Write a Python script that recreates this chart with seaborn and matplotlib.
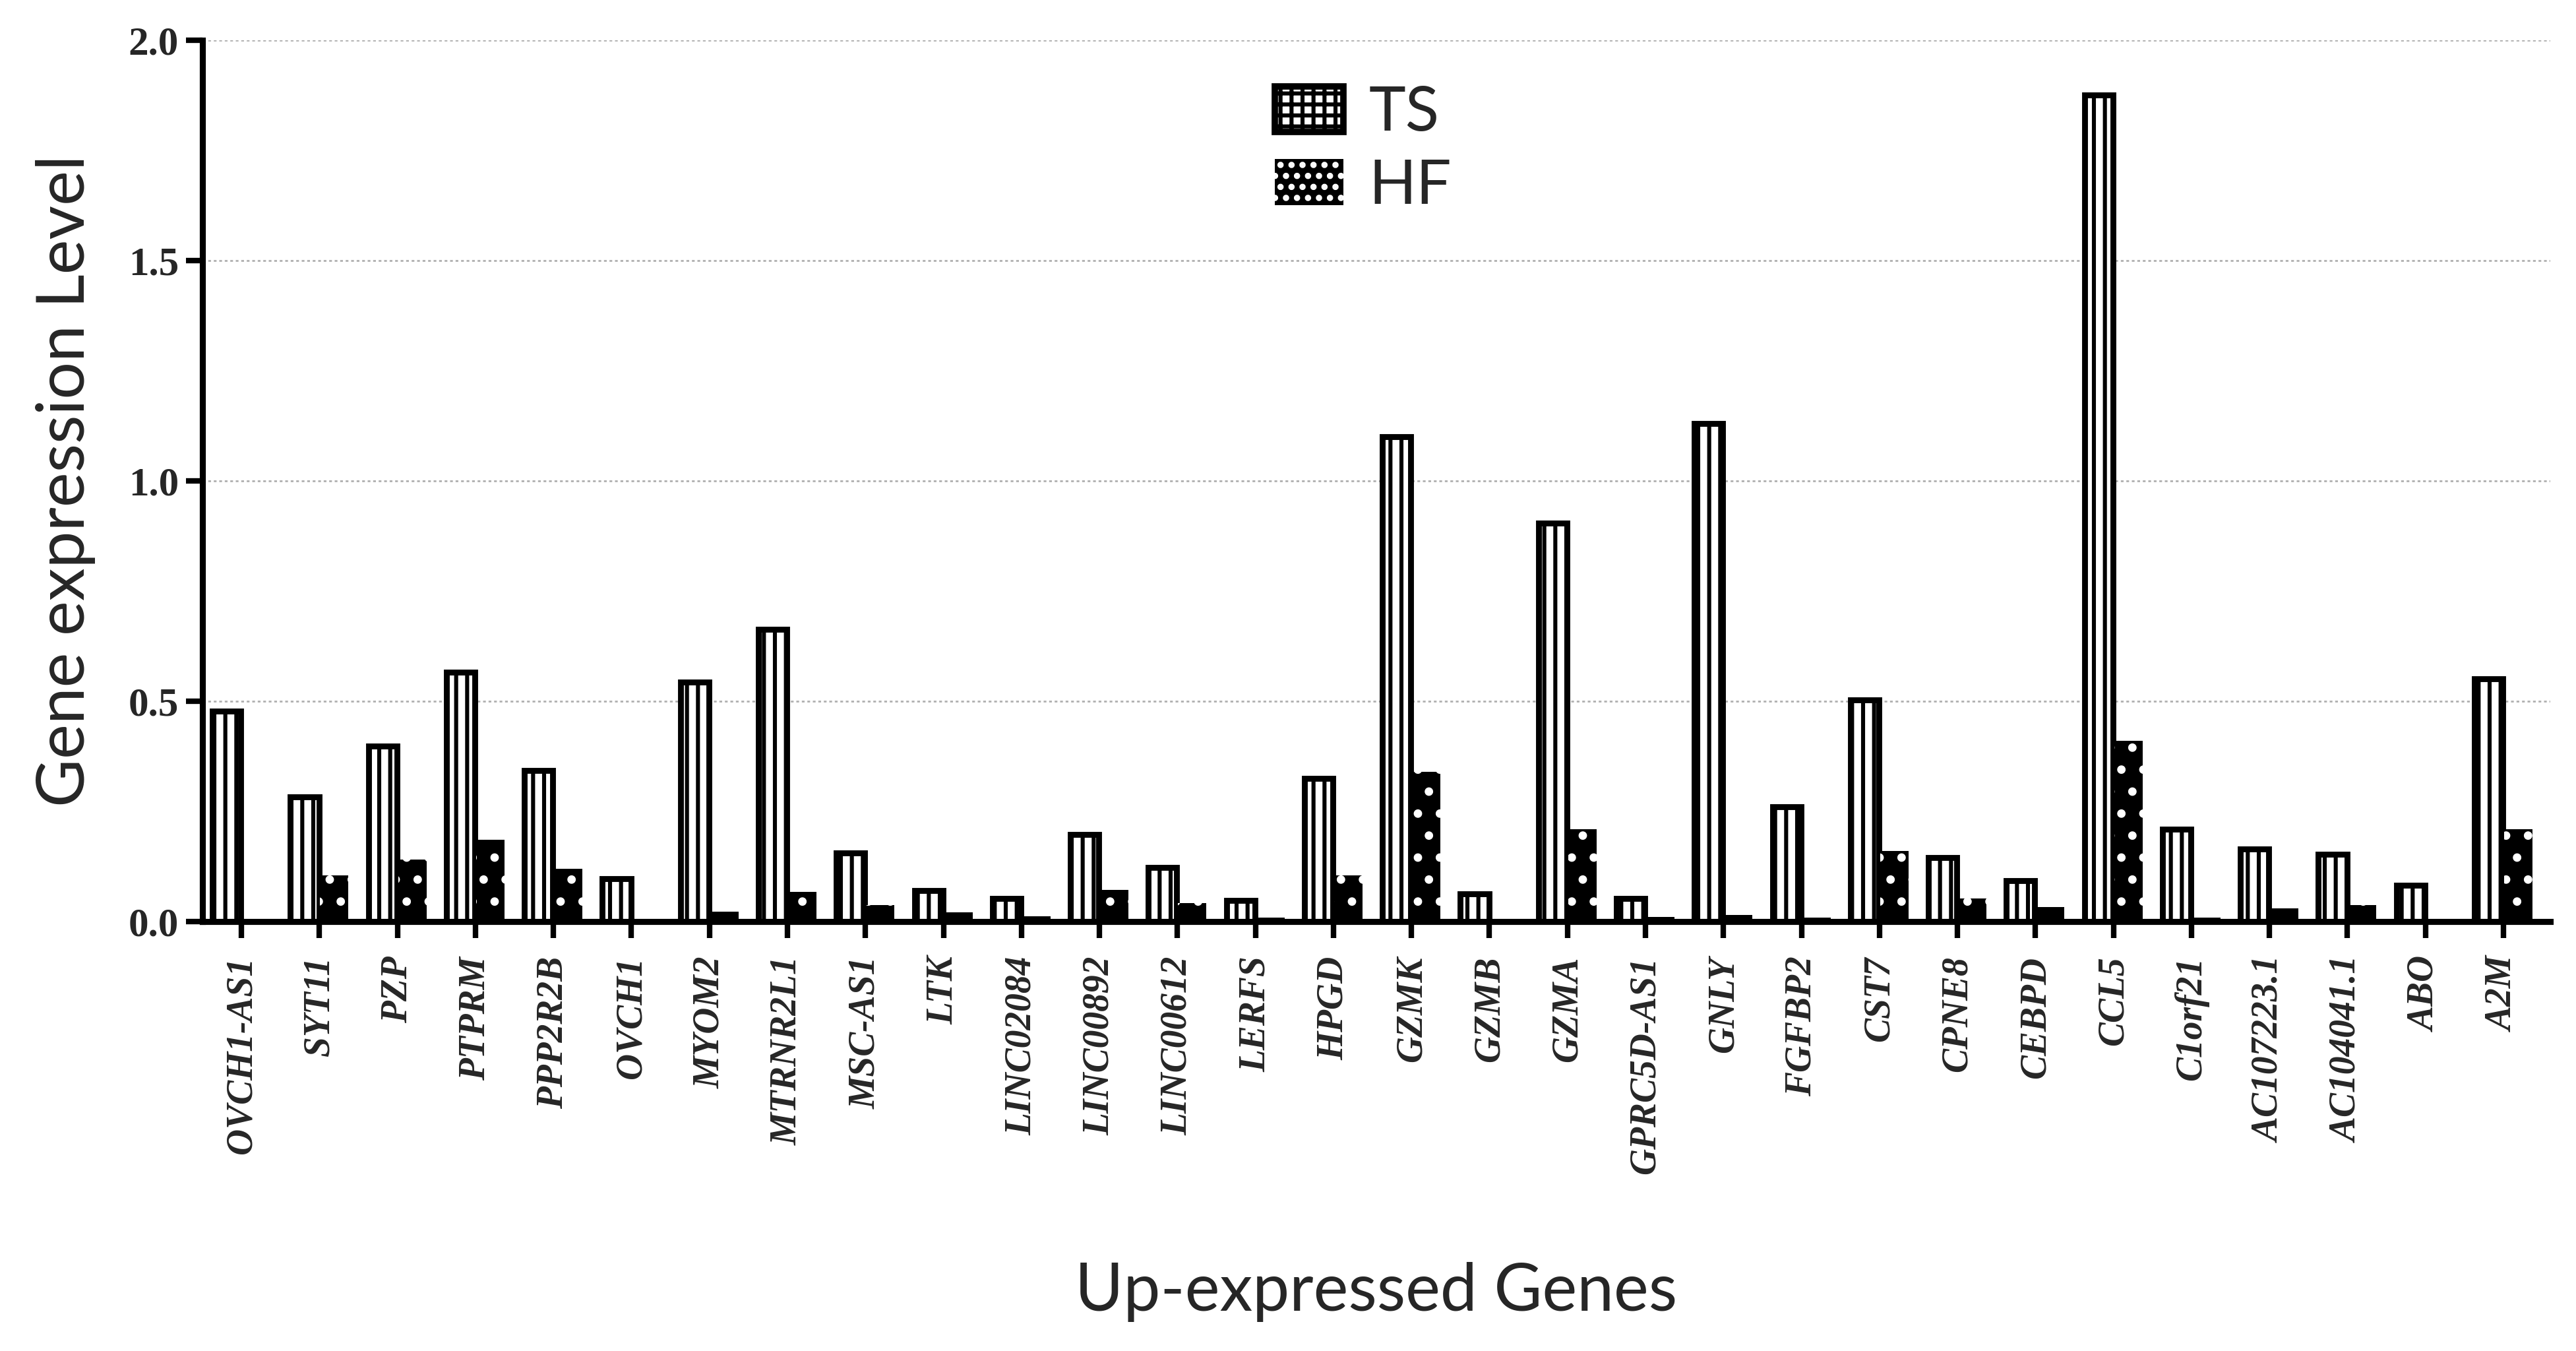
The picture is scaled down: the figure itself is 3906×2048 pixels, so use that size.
import matplotlib
matplotlib.use("Agg")
import matplotlib.pyplot as plt
import matplotlib.patches as mpatches
import pandas as pd
import seaborn as sns

genes = ["OVCH1-AS1", "SYT11", "PZP", "PTPRM", "PPP2R2B", "OVCH1", "MYOM2",
         "MTRNR2L1", "MSC-AS1", "LTK", "LINC02084", "LINC00892", "LINC00612",
         "LERFS", "HPGD", "GZMK", "GZMB", "GZMA", "GPRC5D-AS1", "GNLY",
         "FGFBP2", "CST7", "CPNE8", "CEBPD", "CCL5", "C1orf21", "AC107223.1",
         "AC104041.1", "ABO", "A2M"]
ts = [0.477, 0.283, 0.398, 0.566, 0.343, 0.097, 0.544, 0.663, 0.156, 0.070,
      0.052, 0.197, 0.123, 0.048, 0.324, 1.100, 0.063, 0.905, 0.052, 1.130,
      0.260, 0.503, 0.145, 0.093, 1.877, 0.209, 0.164, 0.153, 0.082, 0.551]
hf = [0.005, 0.104, 0.140, 0.186, 0.119, 0.005, 0.022, 0.067, 0.037, 0.020,
      0.012, 0.071, 0.041, 0.008, 0.104, 0.339, 0.000, 0.209, 0.010, 0.015,
      0.008, 0.160, 0.052, 0.033, 0.410, 0.008, 0.030, 0.037, 0.000, 0.209]
groups = ["TS", "HF"]
yticks = [0.0, 0.5, 1.0, 1.5, 2.0]

df = pd.DataFrame({
    "gene": genes * 2,
    "level": ts + hf,
    "group": ["TS"] * len(genes) + ["HF"] * len(genes),
})

sns.set_theme(style="ticks")
plt.rcParams["hatch.linewidth"] = 2.2

fig = plt.figure(figsize=(19.53, 10.24), dpi=200)
ax = fig.add_axes([0.0786, 0.318, 0.9114, 0.652])

sns.barplot(data=df, x="gene", y="level", hue="group", hue_order=groups,
            order=genes, palette={"TS": "white", "HF": "black"},
            width=0.76, gap=0.04, legend=False, ax=ax, zorder=3)

# TS: white bar, heavy outline, dark centre pattern; HF: solid black, white dots
for bar in ax.containers[0]:
    bar.set_facecolor("white")
    bar.set_edgecolor("black")
    bar.set_linewidth(3.2)
    bar.set_hatch("||")
for bar in ax.containers[1]:
    bar.set_facecolor("black")
    bar.set_edgecolor("white")
    bar.set_linewidth(0)
    bar.set_hatch(".")

ax.set_xlim(-0.5, len(genes) - 0.4)
ax.set_ylim(0, 2.0)
ax.set_yticks(yticks)
ax.set_yticklabels([f"{v:.1f}" for v in yticks])
ax.yaxis.grid(True, linestyle=(0, (1.5, 1.5)), color="#b0b0b0", linewidth=1.0, zorder=0)
ax.set_axisbelow(True)

sns.despine(ax=ax, top=True, right=True)
for side in ["left", "bottom"]:
    ax.spines[side].set_linewidth(3.3)
    ax.spines[side].set_color("black")
    ax.spines[side].set_zorder(5)

ax.tick_params(axis="both", length=9, width=3, color="black", direction="out")
ax.tick_params(axis="x", pad=10)
ax.tick_params(axis="y", pad=4)
for lab in ax.get_xticklabels():
    lab.set_rotation(90)
    lab.set_fontfamily("Liberation Serif")
    lab.set_fontweight("bold")
    lab.set_fontstyle("italic")
    lab.set_fontsize(20)
for lab in ax.get_yticklabels():
    lab.set_fontfamily("Liberation Serif")
    lab.set_fontweight("bold")
    lab.set_fontsize(22)

ax.set_ylabel("Gene expression Level", fontsize=36, fontfamily="Lato", labelpad=18)
ax.set_xlabel("Up-expressed Genes", fontsize=36, fontfamily="Lato", labelpad=48)

handles = [
    mpatches.Patch(facecolor="white", edgecolor="black", linewidth=3.5, hatch="++", label="TS"),
    mpatches.Patch(facecolor="black", edgecolor="white", linewidth=0, hatch="..", label="HF"),
]
ax.legend(handles=handles, loc="upper left", bbox_to_anchor=(0.433, 1.012),
          frameon=False, prop={"family": "Lato", "size": 34},
          handlelength=1.1, handleheight=0.75, handletextpad=0.4, labelspacing=0.28)

fig.savefig("out.png", dpi=200)
